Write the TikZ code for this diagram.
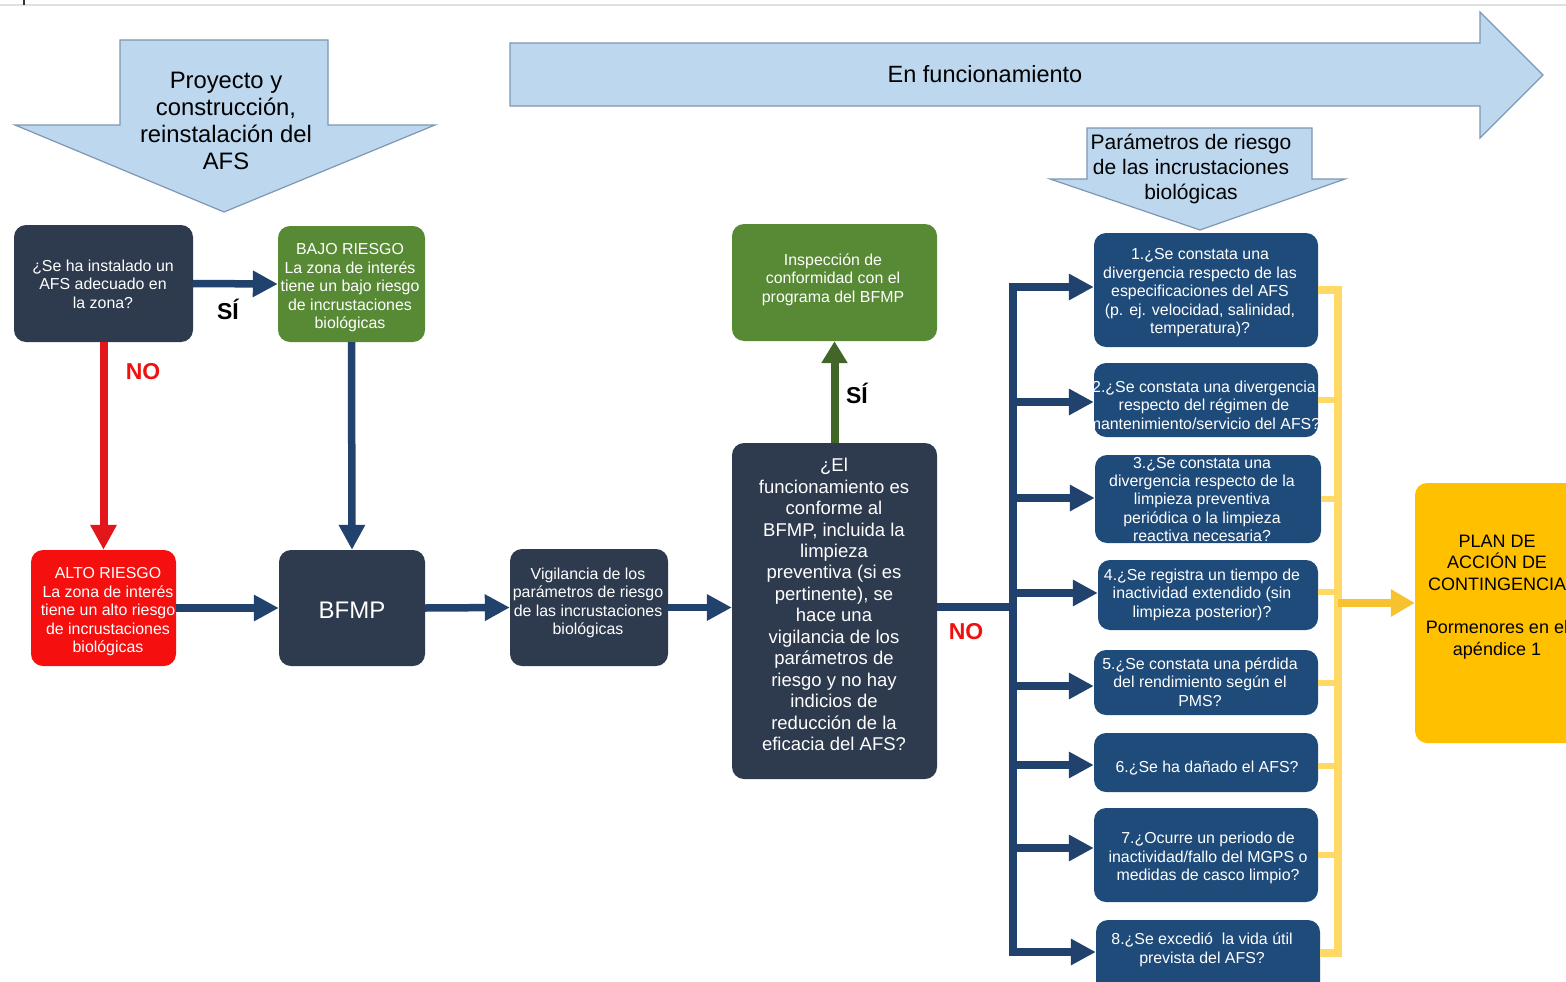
\documentclass[tikz,border=0pt]{standalone}
\usepackage{fontspec}
\setmainfont{Liberation Sans}
\usetikzlibrary{arrows.meta,calc}
\definecolor{slate}{HTML}{2E3A4D}
\definecolor{navybox}{HTML}{1F4B7A}
\definecolor{navyarr}{HTML}{22426E}
\definecolor{greenbox}{HTML}{588A35}
\definecolor{greenarr}{HTML}{416628}
\definecolor{redbox}{HTML}{F50F0F}
\definecolor{redarr}{HTML}{E2161B}
\definecolor{redlabel}{HTML}{F01010}
\definecolor{yellowbox}{HTML}{FFC000}
\definecolor{yellowarr}{HTML}{F7C22F}
\definecolor{yellowline}{HTML}{FFD966}
\definecolor{lightblue}{HTML}{BDD7EE}
\definecolor{blueborder}{HTML}{7E97B4}
\begin{document}
\begin{tikzpicture}[x=1pt,y=-1pt,
  boxbase/.style={rounded corners=12pt, inner sep=0pt, draw=none},
  slatebox/.style={boxbase, fill=slate},
  navyrbox/.style={boxbase, fill=navybox},
  greenrbox/.style={boxbase, fill=greenbox},
  redrbox/.style={boxbase, fill=redbox},
  yellowrbox/.style={boxbase, fill=yellowbox},
  wtext/.style={inner sep=0pt, align=center, text=white, font=\fontsize{15.9}{18.5}\selectfont},
  bigtext/.style={inner sep=0pt, align=center, text=black},
  navyarrow/.style={draw=navyarr, line width=7.5pt, -{Triangle[length=25pt,width=25pt]}},
  navyline/.style={draw=navyarr, line width=7.5pt, line cap=rect},
  redarrow/.style={draw=redarr, line width=8pt, -{Triangle[length=25pt,width=25pt]}},
  greenarrow/.style={draw=greenarr, line width=8pt, -{Triangle[length=22pt,width=25pt]}},
  yellowarrow/.style={draw=yellowarr, line width=8pt, -{Triangle[length=24pt,width=26pt]}},
  ylw/.style={draw=yellowline, line width=8pt},
  ylwstub/.style={draw=yellowline, line width=6pt},
  lbl/.style={inner sep=0pt, font=\bfseries\fontsize{23}{26}\selectfont},
  bluearrow/.style={fill=lightblue, draw=blueborder, line width=1.2pt, line join=miter}
]
\useasboundingbox (0,0) rectangle (1566,982);
\clip (0,0) rectangle (1566,982);

% top border artefacts
\draw[draw=black!12, line width=2pt] (0,5) -- (1566,5);
\draw[draw=black!80, line width=1.5pt] (24,0) -- (24,5);

% big light-blue arrows
\draw[bluearrow] (120,40) -- (328,40) -- (328,125) -- (435,125) -- (224,212) -- (15,125) -- (120,125) -- cycle;
\node[bigtext, font=\fontsize{23.8}{27}\selectfont] (proy) at (226,121) {Proyecto y\\construcción,\\reinstalación del\\AFS};

\draw[bluearrow] (510,43) -- (1480,43) -- (1480,12) -- (1543,75) -- (1480,138) -- (1480,106) -- (510,106) -- cycle;
\node[bigtext, font=\fontsize{23.5}{26}\selectfont] (func) at (985,74) {En funcionamiento};

\draw[bluearrow] (1087,128) -- (1312,128) -- (1312,179) -- (1345,179) -- (1200,230) -- (1050,179) -- (1087,179) -- cycle;
\node[bigtext, font=\fontsize{21}{25}\selectfont] (param) at (1191,169) {Parámetros de riesgo\\de las incrustaciones\\biológicas};

% left/middle boxes
\node[slatebox, minimum width=179, minimum height=117] (q1) at (103.5,283.5) {};
\node[wtext] (q1t) at (103,284) {¿Se ha instalado un\\AFS adecuado en\\la zona?};

\node[greenrbox, minimum width=147, minimum height=116] (bajo) at (351.5,284) {};
\node[wtext] (bajot) at (350,288) {BAJO RIESGO\\La zona de interés\\tiene un bajo riesgo\\de incrustaciones\\biológicas};

\node[redrbox, minimum width=145, minimum height=116] (alto) at (103.5,608) {};
\node[wtext] (altot) at (108,612) {ALTO RIESGO\\La zona de interés\\tiene un alto riesgo\\de incrustaciones\\biológicas};

\node[slatebox, minimum width=146, minimum height=116] (bfmp) at (352,608) {};
\node[wtext, font=\fontsize{24}{28}\selectfont] (bfmpt) at (352,610) {BFMP};

\node[slatebox, minimum width=158, minimum height=117] (vig) at (589,607.5) {};
\node[wtext] (vigt) at (588,603) {Vigilancia de los\\parámetros de riesgo\\de las incrustaciones\\biológicas};

\node[slatebox, minimum width=205, minimum height=336] (q2) at (834.5,611) {};
\node[wtext, font=\fontsize{18.5}{21.45}\selectfont] (q2t) at (834,604.5) {¿El\\funcionamiento es\\conforme al\\BFMP, incluida la\\limpieza\\preventiva (si es\\pertinente), se\\hace una\\vigilancia de los\\parámetros de\\riesgo y no hay\\indicios de\\reducción de la\\eficacia del AFS?};

\node[greenrbox, minimum width=205, minimum height=117] (insp) at (834.5,282.5) {};
\node[wtext] (inspt) at (833,279.5) {Inspección de\\conformidad con el\\programa del BFMP};

% right column boxes
\node[navyrbox, minimum width=224, minimum height=114] (r1) at (1206,290) {};
\node[wtext] (r1t) at (1200,293) {1.¿Se constata una\\divergencia respecto de las\\especificaciones del AFS\\(p. ej. velocidad, salinidad,\\temperatura)?};

\node[navyrbox, minimum width=224, minimum height=74] (r2) at (1206,400) {};
\node[wtext] (r2t) at (1204,405) {2.¿Se constata una divergencia\\respecto del régimen de\\mantenimiento/servicio del AFS?};

\node[navyrbox, minimum width=226, minimum height=88] (r3) at (1208,499) {};
\node[wtext, font=\fontsize{15.9}{18.2}\selectfont] (r3t) at (1202,499.5) {3.¿Se constata una\\divergencia respecto de la\\limpieza preventiva\\periódica o la limpieza\\reactiva necesaria?};

\node[navyrbox, minimum width=220, minimum height=70] (r4) at (1208,595) {};
\node[wtext] (r4t) at (1202,594.5) {4.¿Se registra un tiempo de\\inactividad extendido (sin\\limpieza posterior)?};

\node[navyrbox, minimum width=224, minimum height=65] (r5) at (1206,682.5) {};
\node[wtext] (r5t) at (1200,682) {5.¿Se constata una pérdida\\del rendimiento según el\\PMS?};

\node[navyrbox, minimum width=224, minimum height=59] (r6) at (1206,762.5) {};
\node[wtext] (r6t) at (1207,768) {6.¿Se ha dañado el AFS?};

\node[navyrbox, minimum width=224, minimum height=94] (r7) at (1206,855) {};
\node[wtext] (r7t) at (1208,858) {7.¿Ocurre un periodo de\\inactividad/fallo del MGPS o\\medidas de casco limpio?};

\node[navyrbox, minimum width=224, minimum height=80] (r8) at (1208,960) {};
\node[wtext] (r8t) at (1202,950) {8.¿Se excedió\ \ la vida útil\\prevista del AFS?};

% contingency plan
\node[yellowrbox, minimum width=170, minimum height=260] (plan) at (1500,613) {};
\node[bigtext, font=\fontsize{18}{21.6}\selectfont] (plant) at (1497,597) {PLAN DE\\ACCIÓN DE\\CONTINGENCIA\\[21.6pt]Pormenores en el\\apéndice 1};

% left connectors
\draw[navyarrow] (q1.east) -- (bajo.west);
\node[lbl] (si1) at (228,309) {SÍ};
\draw[redarrow] (q1.south) -- (alto.north);
\node[lbl, text=redlabel] (no1) at (143,372) {NO};
\draw[navyarrow] (bajo.south) -- (bfmp.north);
\draw[navyarrow] (alto.east) -- (bfmp.west);
\draw[navyarrow] (bfmp.east) -- (vig.west);
\draw[navyarrow] (vig.east) -- (q2.west |- vig.east);
\draw[greenarrow] (q2.north) -- (insp.south);
\node[lbl] (si2) at (857,393) {SÍ};

% trunk and branches
\coordinate (b1) at (1013,287);
\coordinate (b2) at (1013,402);
\coordinate (b3) at (1013,498);
\coordinate (b4) at (1013,593);
\coordinate (b5) at (1013,686);
\coordinate (b6) at (1013,765);
\coordinate (b7) at (1013,848);
\coordinate (b8) at (1013,952);
\coordinate (bj) at (1013,607);
\draw[navyline] (b1) -- (b8);
\draw[navyline, line cap=butt] (q2.east |- bj) -- (bj);
\node[lbl, text=redlabel] (no2) at (966,632) {NO};
\draw[navyarrow] (b1) -- (r1.west |- b1);
\draw[navyarrow] (b2) -- (r2.west |- b2);
\draw[navyarrow] (b3) -- (r3.west |- b3);
\draw[navyarrow] (b4) -- (r4.west |- b4);
\draw[navyarrow] (b5) -- (r5.west |- b5);
\draw[navyarrow] (b6) -- (r6.west |- b6);
\draw[navyarrow] (b7) -- (r7.west |- b7);
\draw[navyarrow] (b8) -- (r8.west |- b8);

% yellow collector
\coordinate (y1) at (1338,290);
\coordinate (y8) at (1338,953);
\coordinate (yj) at (1338,603);
\draw[ylw, line join=miter] (r1.east |- y1) -- (y1) -- (y8) -- (r8.east |- y8);
\draw[ylwstub] (r2.east) -- (r2.east -| y1);
\draw[ylwstub] (r3.east) -- (r3.east -| y1);
\draw[ylwstub] ($(r4.east)+(0,-3)$) -- ($(r4.east -| y1)+(0,-3)$);
\draw[ylwstub] (r5.east) -- (r5.east -| y1);
\draw[ylwstub] ($(r6.east)+(0,3)$) -- ($(r6.east -| y1)+(0,3)$);
\draw[ylwstub] (r7.east) -- (r7.east -| y1);
\draw[yellowarrow] (yj) -- (plan.west |- yj);
\end{tikzpicture}
\end{document}
